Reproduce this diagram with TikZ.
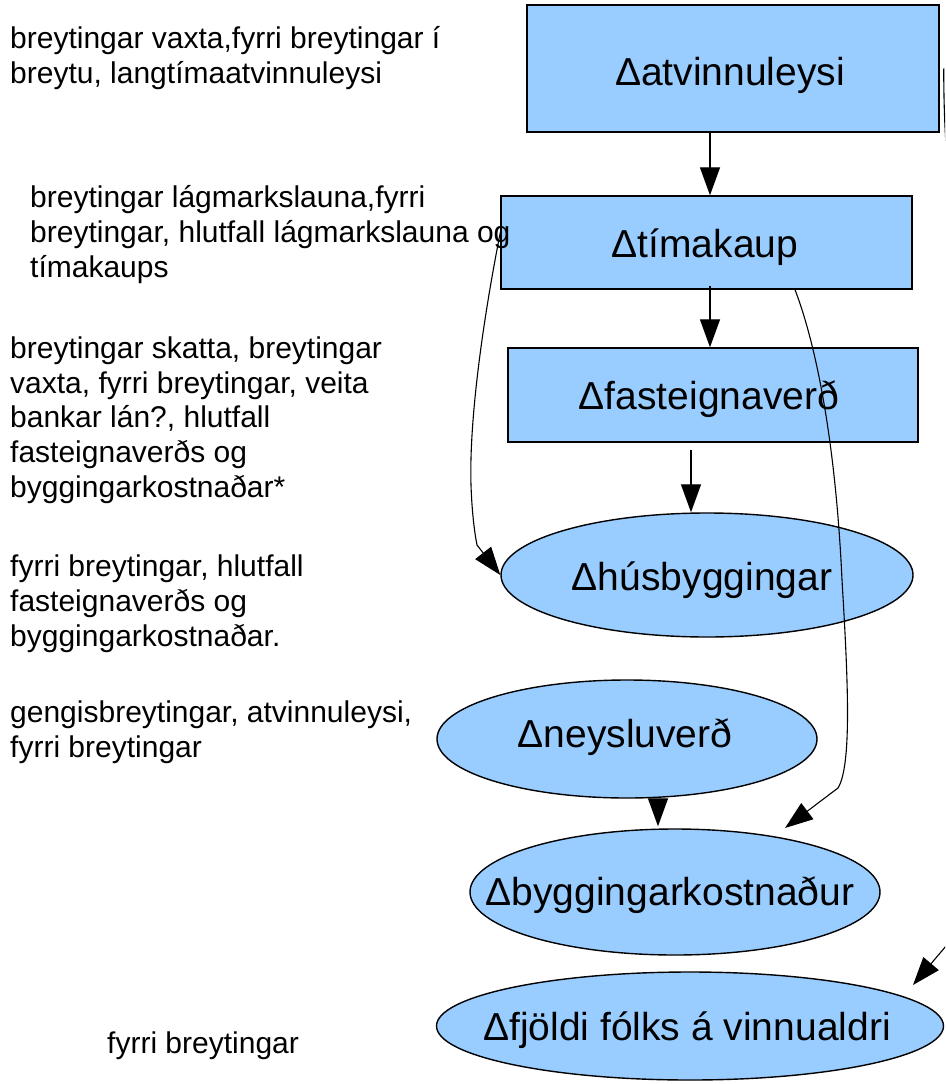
\documentclass[tikz,border=0pt]{standalone}
\usepackage{fontspec}
\setmainfont{Liberation Sans}
\usetikzlibrary{arrows.meta,shapes.geometric}
\definecolor{boxblue}{RGB}{153,204,255}
\begin{document}
\begin{tikzpicture}[x=1pt,y=-1pt,
  box/.style={draw=black,line width=1.4pt,fill=boxblue,rectangle,inner sep=0},
  oval/.style={draw=black,line width=1.4pt,fill=boxblue,ellipse,inner sep=0},
  lab/.style={font=\fontsize{39}{45}\selectfont,inner sep=0,anchor=base},
  side/.style={font=\fontsize{30}{34.6}\selectfont,inner sep=0,anchor=base west,align=left},
  arr/.style={line width=1.3pt,-{Triangle[length=28pt,width=20pt]}},
  link/.style={line width=1.1pt,-{Triangle[length=28pt,width=20pt]}}]
\useasboundingbox (0,0) rectangle (945,1084);
\clip (0,0) rectangle (945,1084);
\fill[white] (0,0) rectangle (945,1084);

% shapes
\node[box,minimum width=412pt,minimum height=127pt] (atv) at (733,68.5) {};
\node[box,minimum width=411pt,minimum height=93pt] (tim) at (706.5,242.5) {};
\node[box,minimum width=410pt,minimum height=94pt] (fas) at (713,395) {};
\node[oval,minimum width=412pt,minimum height=124pt] (hus) at (707,575) {};
\node[oval,minimum width=380pt,minimum height=118pt] (ney) at (627,739) {};
\node[oval,minimum width=410pt,minimum height=126pt] (byg) at (675,892) {};
\node[oval,minimum width=507pt,minimum height=108pt] (fjo) at (690,1026) {};

% labels inside shapes
\node[lab] (atvT) at (730,85) {Δatvinnuleysi};
\node[lab] (timT) at (705,257) {Δtímakaup};
\node[lab] (fasT) at (709,409) {Δfasteignaverð};
\node[lab] (husT) at (702,590) {Δhúsbyggingar};
\node[lab] (neyT) at (625,747) {Δneysluverð};
\node[lab] (bygT) at (670,905) {Δbyggingarkostnaður};
\node[lab] (fjoT) at (687,1040) {Δfjöldi fólks á vinnualdri};

% side texts (anchor = baseline of last line)
\node[side] (s1) at (10,83) {breytingar vaxta,fyrri breytingar í\\breytu, langtímaatvinnuleysi};
\node[side] (s2) at (30,277) {breytingar lágmarkslauna,fyrri\\breytingar, hlutfall lágmarkslauna og\\tímakaups};
\node[side] (s3) at (10,497) {breytingar skatta, breytingar\\vaxta, fyrri breytingar, veita\\bankar lán?, hlutfall\\fasteignaverðs og\\byggingarkostnaðar*};
\node[side] (s4) at (10,646) {fyrri breytingar, hlutfall\\fasteignaverðs og\\byggingarkostnaðar.};
\node[side] (s5) at (10,757) {gengisbreytingar, atvinnuleysi,\\fyrri breytingar};
\node[side] (s6) at (107,1053) {fyrri breytingar};

% straight arrows
\draw[arr] ([xshift=-23pt]atv.south) -- ([xshift=3.5pt]tim.north);
\draw[arr] ([xshift=3.5pt,yshift=4pt]tim.south) -- ([xshift=-3pt]fas.north);
\draw[arr] ([xshift=-22pt,yshift=-7pt]fas.south) -- ([xshift=-16pt]hus.north);
\draw[arr] ([xshift=31pt]ney.south) -- ([xshift=-17pt,yshift=2pt]byg.north);

% curved connectors
\coordinate (bt) at (785,828);
\coordinate (ft) at (913,985);
\draw[link] ([yshift=10pt]tim.west) .. controls (483,320) and (469,420) .. (471,485)
  .. controls (472,515) and (475,535) .. (477,545) -- (hus.west);
\draw[link] ([xshift=88.5pt]tim.south) .. controls (818,350) and (836,450) .. (842,580)
  .. controls (848,680) and (852,765) .. (838,788) -- (bt);
\draw[link] ([xshift=4pt]atv.east) .. controls (944,150) and (948,200) .. (975,320)
  -- (975,850) .. controls (960,915) and (952,935) .. (946,946) -- (ft);
\end{tikzpicture}
\end{document}
